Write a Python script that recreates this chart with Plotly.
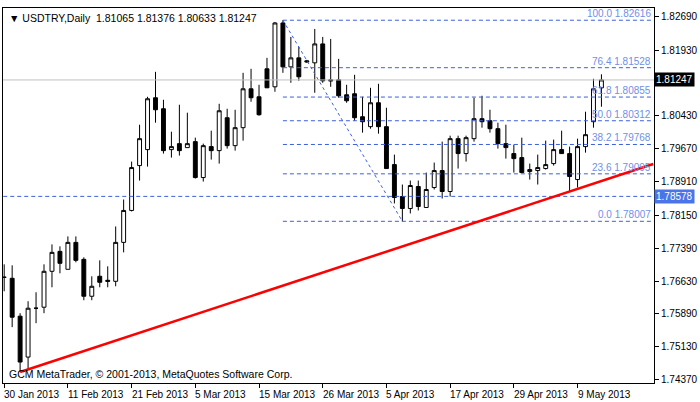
import plotly.graph_objects as go

opens = [1.76724,1.76701,1.75832,1.74895,1.76015,1.76038,1.76861,1.77318,1.76907,1.77524,
         1.77135,1.76289,1.76747,1.76655,1.76632,1.77524,1.78256,1.79284,1.79650,1.80839,
         1.80587,1.79650,1.79787,1.79696,1.79833,1.79010,1.79719,1.79627,1.80381,1.79741,
         1.80153,1.81044,1.80861,1.81502,1.81090,1.82553,1.81547,1.81753,1.81685,1.81639,
         1.82073,1.81250,1.81250,1.80907,1.80930,1.80404,1.80176,1.80724,1.80176,1.79307,
         1.78575,1.78301,1.78804,1.78324,1.78781,1.79170,1.78690,1.79901,1.79559,1.79901,
         1.80359,1.80313,1.80130,1.79787,1.79559,1.79467,1.79147,1.79170,1.79216,1.79330,
         1.79650,1.79559,1.78964,1.79719,1.80290,1.81065]
highs = [1.77021,1.76998,1.75901,1.76175,1.76381,1.77021,1.77478,1.77433,1.77661,1.77661,
         1.77181,1.76747,1.77112,1.76975,1.77889,1.78507,1.79376,1.80221,1.80861,1.81433,
         1.80793,1.80061,1.80679,1.80496,1.79924,1.79787,1.80084,1.80701,1.80587,1.80564,
         1.81410,1.81502,1.81136,1.81753,1.82576,1.82616,1.82233,1.82005,1.81708,1.82416,
         1.82233,1.82187,1.81730,1.81136,1.81365,1.80861,1.81067,1.81159,1.80610,1.79536,
         1.78850,1.78941,1.78941,1.79124,1.79353,1.79833,1.79970,1.79970,1.79970,1.80839,
         1.80884,1.80564,1.80267,1.80221,1.79764,1.79924,1.79330,1.79536,1.79856,1.79879,
         1.80084,1.79719,1.79901,1.80519,1.81273,1.81376]
lows = [1.76403,1.75581,1.74553,1.74621,1.75672,1.75901,1.76495,1.76815,1.76907,1.77067,
        1.76198,1.76198,1.76495,1.76495,1.76518,1.77295,1.78233,1.78941,1.79261,1.80267,
        1.79559,1.79467,1.79513,1.79696,1.78987,1.78918,1.79421,1.79330,1.79673,1.79627,
        1.79856,1.80747,1.80427,1.81067,1.80976,1.81410,1.81182,1.81227,1.81639,1.80953,
        1.81182,1.81090,1.80839,1.80724,1.80313,1.80039,1.80130,1.80016,1.79216,1.78416,
        1.78007,1.78187,1.78256,1.78324,1.78736,1.78530,1.78575,1.79216,1.79376,1.79833,
        1.80153,1.80039,1.79673,1.79444,1.79124,1.79124,1.78964,1.78850,1.79193,1.79284,
        1.79559,1.78690,1.78781,1.79581,1.80153,1.80633]
closes = [1.76724,1.75809,1.74781,1.76015,1.76015,1.76861,1.77295,1.77044,1.77524,1.77112,
          1.76289,1.76518,1.76609,1.76632,1.77524,1.78256,1.79239,1.79901,1.80816,1.80564,
          1.79627,1.79719,1.79627,1.79787,1.79010,1.79741,1.79627,1.80541,1.79741,1.80153,
          1.81044,1.80839,1.80450,1.81067,1.82553,1.81547,1.81753,1.81319,1.81662,1.82073,
          1.81227,1.81227,1.80884,1.80770,1.80381,1.80290,1.80724,1.80176,1.79216,1.78553,
          1.78301,1.78827,1.78347,1.78736,1.79170,1.78690,1.79901,1.79559,1.79924,1.80359,
          1.80290,1.80130,1.79787,1.79696,1.79444,1.79124,1.79193,1.79239,1.79307,1.79650,
          1.79559,1.79033,1.79719,1.79993,1.81044,1.81247]

tick_idx = [0, 8, 16, 24, 32, 40, 48, 56, 64, 72]
tick_labels = ["30 Jan 2013", "11 Feb 2013", "21 Feb 2013", "5 Mar 2013", "15 Mar 2013",
               "26 Mar 2013", "5 Apr 2013", "17 Apr 2013", "29 Apr 2013", "9 May 2013"]
price_ticks = [1.82690, 1.81930, 1.81170, 1.80430, 1.79670, 1.78910, 1.78150,
               1.77390, 1.76630, 1.75890, 1.75130, 1.74370]

fib_pct = ["100.0", "76.4", "61.8", "50.0", "38.2", "23.6", "0.0"]
fib_levels = [1.82616, 1.81528, 1.80855, 1.80312, 1.79768, 1.79095, 1.78007]
fib_start_idx = 35
fib_end_idx = 50
support_level = 1.78578
trend_x = [2, 81.5]
trend_y = [1.74553, 1.79320]

x = list(range(len(opens)))
XMAX = 81.6
BLUE = "#3d5fe0"
FONT = "Liberation Sans"

fig = go.Figure()
fig.add_trace(go.Candlestick(
    x=x, open=opens, high=highs, low=lows, close=closes,
    increasing=dict(line=dict(color="black", width=1), fillcolor="white"),
    decreasing=dict(line=dict(color="black", width=1), fillcolor="black"),
    whiskerwidth=0, showlegend=False, hoverinfo="skip"))

fig.add_trace(go.Scatter(x=[-1, XMAX], y=[closes[-1]] * 2, mode="lines",
                         line=dict(color="#c0c0c0", width=1), showlegend=False))
fig.add_trace(go.Scatter(x=[-1, XMAX], y=[support_level] * 2, mode="lines",
                         line=dict(color=BLUE, width=1, dash="4px,3px"), showlegend=False))
for lv in fib_levels:
    fig.add_trace(go.Scatter(x=[fib_start_idx, XMAX], y=[lv, lv], mode="lines",
                             line=dict(color=BLUE, width=1, dash="4px,3px"), showlegend=False))
fig.add_trace(go.Scatter(x=[fib_start_idx, fib_end_idx], y=[fib_levels[0], fib_levels[-1]],
                         mode="lines", line=dict(color=BLUE, width=1, dash="dot"), showlegend=False))
fig.add_trace(go.Scatter(x=trend_x, y=trend_y, mode="lines",
                         line=dict(color="#ff0000", width=2.5), showlegend=False))

ann = []
for p, lv in zip(fib_pct, fib_levels):
    ann.append(dict(x=1, xref="paper", y=lv, yref="y", text=f"{p} {lv:.5f}",
                    xanchor="right", yanchor="bottom", showarrow=False, xshift=-1, yshift=-1,
                    font=dict(color="#6f8fe8", size=10, family=FONT)))
ann.append(dict(x=1, xref="paper", y=closes[-1], yref="y", text=f"{closes[-1]:.5f}",
                xanchor="left", yanchor="middle", showarrow=False, bgcolor="black",
                font=dict(color="white", size=10, family=FONT), borderpad=1))
ann.append(dict(x=1, xref="paper", y=support_level, yref="y", text=f"{support_level:.5f}",
                xanchor="left", yanchor="middle", showarrow=False, bgcolor="#4a74e8",
                font=dict(color="white", size=10, family=FONT), borderpad=1))
ann.append(dict(x=0, xref="paper", y=1, yref="paper", xshift=4, yshift=-2,
                text="▼ USDTRY,Daily  1.81065 1.81376 1.80633 1.81247",
                xanchor="left", yanchor="top", showarrow=False,
                font=dict(color="black", size=10.5, family=FONT)))
ann.append(dict(x=0, xref="paper", y=0, yref="paper", xshift=4, yshift=1,
                text="GCM MetaTrader, © 2001-2013, MetaQuotes Software Corp.",
                xanchor="left", yanchor="bottom", showarrow=False,
                font=dict(color="black", size=10.5, family=FONT)))
# date labels start at their tick, as in MetaTrader
for ti, tl in zip(tick_idx, tick_labels):
    ann.append(dict(x=ti, xref="x", y=0, yref="paper", yshift=-4, xshift=-2,
                    text=tl, xanchor="left", yanchor="top", showarrow=False,
                    font=dict(color="black", size=10, family=FONT)))

fig.update_layout(
    width=700, height=402, margin=dict(l=2, r=43, t=8, b=19),
    paper_bgcolor="white", plot_bgcolor="white", annotations=ann,
    font=dict(family=FONT, size=10, color="black"),
    xaxis=dict(range=[-0.15, XMAX], tickvals=tick_idx, ticktext=[""] * len(tick_idx),
               tickangle=0, showgrid=False, zeroline=False, rangeslider=dict(visible=False),
               showline=True, linecolor="black", mirror=True, ticks="outside",
               ticklen=4, tickcolor="black", tickfont=dict(size=10, family=FONT)),
    yaxis=dict(range=[1.74301, 1.82896], side="right", tickvals=price_ticks,
               ticktext=["" if abs(v - closes[-1]) < 0.001 else f"{v:.5f}" for v in price_ticks],
               showgrid=False, zeroline=False,
               showline=True, linecolor="black", mirror=True, ticks="outside",
               ticklen=4, tickcolor="black", tickfont=dict(size=10, family=FONT)),
)
fig.write_html("out.html", config={"displayModeBar": False},
               post_script="document.body.style.margin='0';")
